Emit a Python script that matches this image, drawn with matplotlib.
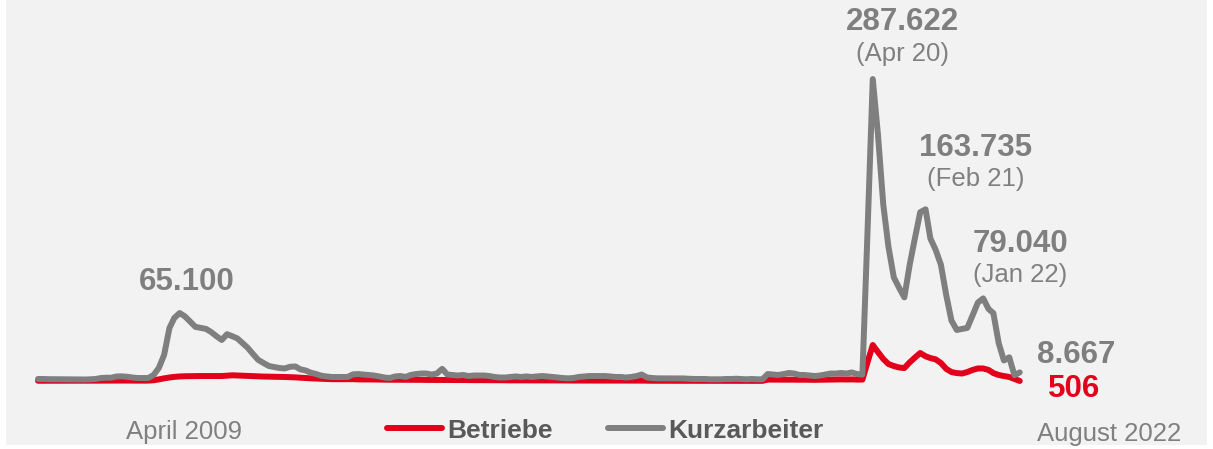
import matplotlib
matplotlib.use("Agg")
import matplotlib.pyplot as plt
from matplotlib.patches import Rectangle
import pandas as pd

plt.rcParams['font.family'] = ['Liberation Sans', 'DejaVu Sans']

# Monthly series, January 2007 to August 2022
months = pd.date_range('2007-01-01', '2022-08-01', freq='MS')

kurzarbeiter = [
    2400, 2400, 2200, 2200, 2100, 2100, 2000, 2000, 1900, 1900, 2100, 2400,
    3300, 3600, 3600, 4800, 4900, 4500, 3800, 3300, 3300, 3300, 6200, 12800,
    25200, 50900, 60400, 65100, 62000, 57000, 52000, 51000, 50000, 47000, 43000, 39500,
    45000, 43000, 41000, 36500, 32000, 26000, 20500, 17500, 14700, 13800, 12800, 12400,
    14000, 14300, 11600, 10500, 8400, 7100, 5500, 4800, 4300, 4300, 4300, 4300,
    6800, 7100, 6600, 6200, 5700, 4800, 3800, 3300, 4800, 5200, 4300, 6200,
    7100, 7600, 7600, 6600, 7600, 12000, 6600, 6200, 5700, 6200, 5200, 5700,
    5700, 5700, 5200, 4300, 3800, 3800, 4300, 4800, 4300, 4800, 4300, 4800,
    5200, 4800, 4300, 3800, 3300, 3000, 3300, 4300, 4800, 5200, 5200, 5200,
    5200, 4800, 4300, 4300, 3800, 4300, 5200, 6600, 3800, 3300, 3000, 3000,
    3000, 3000, 3000, 2900, 2600, 2400, 2400, 2400, 2100, 2100, 2100, 2400,
    2400, 2600, 2400, 2100, 2400, 2100, 2100, 7100, 6600, 6200, 7100, 8100,
    7600, 6200, 6200, 5700, 5200, 5700, 6600, 7600, 7600, 8100, 7600, 8600,
    7100, 6600, 140000, 287622, 235000, 168000, 128000, 99000, 89000, 80000, 111000, 136000,
    161000, 163735, 136000, 125000, 111000, 82000, 58000, 49000, 50000, 51000, 63000, 75000,
    79040, 69000, 65000, 36500, 20000, 23000, 6000, 8667,
]

betriebe = [
    700, 700, 750, 700, 700, 750, 800, 750, 700, 750, 800, 800,
    800, 850, 850, 900, 900, 850, 800, 800, 800, 850, 1200, 2000,
    3000, 3800, 4400, 4800, 5000, 5100, 5100, 5200, 5200, 5200, 5100, 5200,
    5600, 5900, 5700, 5500, 5300, 5100, 4900, 4700, 4600, 4500, 4400, 4300,
    4100, 3900, 3600, 3300, 3000, 2800, 2600, 2400, 2200, 2200, 2200, 2200,
    2200, 2000, 2000, 1900, 1900, 1800, 1800, 1700, 1700, 1700, 1700, 1600,
    1600, 1600, 1500, 1500, 1500, 1600, 1500, 1400, 1400, 1400, 1300, 1300,
    1300, 1300, 1200, 1200, 1200, 1100, 1100, 1100, 1100, 1000, 1000, 1000,
    1000, 1000, 1000, 1000, 1000, 900, 900, 900, 900, 900, 850, 850,
    850, 850, 800, 800, 800, 800, 800, 850, 750, 700, 700, 700,
    650, 650, 650, 650, 600, 600, 600, 600, 600, 600, 600, 600,
    600, 600, 600, 600, 600, 600, 600, 1800, 1800, 1700, 1800, 1900,
    1900, 1700, 1700, 1600, 1600, 1700, 1800, 1900, 1900, 2000, 1900, 2000,
    1800, 1800, 18000, 34700, 28000, 21400, 16600, 14700, 13300, 12800, 18200, 22700,
    27100, 24000, 22300, 21000, 17600, 12000, 9000, 8000, 7600, 9000, 11000, 12400,
    12400, 11000, 8000, 6200, 5200, 4300, 2400, 506,
]

series_names = ['Betriebe', 'Kurzarbeiter']

# Peak annotations: (month, label)
peak_notes = [
    ('2009-04-01', None),
    ('2020-04-01', '(Apr 20)'),
    ('2021-02-01', '(Feb 21)'),
    ('2022-01-01', '(Jan 22)'),
]

RED = '#e2001a'
GREY = '#7f7f7f'
LABEL_GREY = '#808080'
LEGEND_GREY = '#595959'

W, H = 1213, 449
fig = plt.figure(figsize=(W / 100, H / 100), dpi=100)
fig.patch.set_facecolor('white')
fig.patches.append(Rectangle((6 / W, (H - 445) / H), 1201 / W, 445 / H,
                             transform=fig.transFigure, facecolor='#f2f2f2',
                             edgecolor='none', zorder=-5))

ax = fig.add_axes([0, 0, 1, 1])
ax.set_zorder(1)
ax.set_facecolor('none')
ax.set_axis_off()

# Horizontal scale: first month at 38 px, last month at 1019.75 px
span_days = (months[-1] - months[0]).days
days_per_px = span_days / (1019.75 - 38)
ax.set_xlim(months[0] - pd.Timedelta(days=38 * days_per_px),
            months[-1] + pd.Timedelta(days=(W - 1019.75) * days_per_px))
# Vertical scale: zero at 381.5 px from top, 951 persons per pixel
units_per_px = 951
ax.set_ylim(-(H - 381.5) * units_per_px, 381.5 * units_per_px)

lw = 4.3
ax.plot(months, betriebe, color=RED, lw=lw, solid_capstyle='round',
        solid_joinstyle='round', label=series_names[0], zorder=2)
ax.plot(months, kurzarbeiter, color=GREY, lw=lw, solid_capstyle='round',
        solid_joinstyle='round', label=series_names[1], zorder=3)


def fmt(v):
    return f'{v:,}'.replace(',', '.')


def note(month, values, text, dx, dy, size, weight, color):
    i = months.get_loc(pd.Timestamp(month))
    ax.annotate(text, xy=(months[i], values[i]), xytext=(dx, dy),
                textcoords='offset pixels', ha='center', va='baseline',
                fontsize=size, fontweight=weight, color=color, zorder=5,
                annotation_clip=False)


BIG = 22.5
SMALL = 18.5

i09 = months.get_loc(pd.Timestamp('2009-04-01'))
note('2009-04-01', kurzarbeiter, fmt(kurzarbeiter[i09]), 7, 23, BIG, 'bold', GREY)

offsets = {'2020-04-01': (30, 49, 18), '2021-02-01': (50, 53, 23), '2022-01-01': (37, 46, 16)}
for month, sub in peak_notes[1:]:
    i = months.get_loc(pd.Timestamp(month))
    dx, dy_big, dy_small = offsets[month]
    note(month, kurzarbeiter, fmt(kurzarbeiter[i]), dx, dy_big, BIG, 'bold', GREY)
    note(month, kurzarbeiter, sub, dx, dy_small, SMALL, 'normal', LABEL_GREY)

# Latest values
note('2022-08-01', kurzarbeiter, fmt(kurzarbeiter[-1]), 56, 9, BIG, 'bold', GREY)
note('2022-08-01', betriebe, fmt(betriebe[-1]), 54, -16, BIG, 'bold', RED)

# Period labels under the time axis
ax.annotate('April 2009', xy=(months[i09], 0), xytext=(4, -57.5),
            textcoords='offset pixels', ha='center', va='baseline',
            fontsize=SMALL, color=LABEL_GREY)
ax.annotate('August 2022', xy=(months[-1], 0), xytext=(89, -59.5),
            textcoords='offset pixels', ha='center', va='baseline',
            fontsize=SMALL, color=LABEL_GREY)

leg = ax.legend(loc='center', bbox_to_anchor=(605 / W, (H - 430.5) / H),
                bbox_transform=fig.transFigure, ncol=2, frameon=False,
                prop={'size': 19, 'weight': 'bold'}, labelcolor=LEGEND_GREY,
                handlelength=2.08, handletextpad=0.2, columnspacing=2.1,
                borderpad=0, borderaxespad=0)

# Heading sits just above the visible area
fig.text(264 / W, 1 + 7 / H, 'Entwicklung', ha='right', va='baseline',
         fontsize=20, color='black')

fig.savefig('out.png', dpi=100, facecolor=fig.get_facecolor())
